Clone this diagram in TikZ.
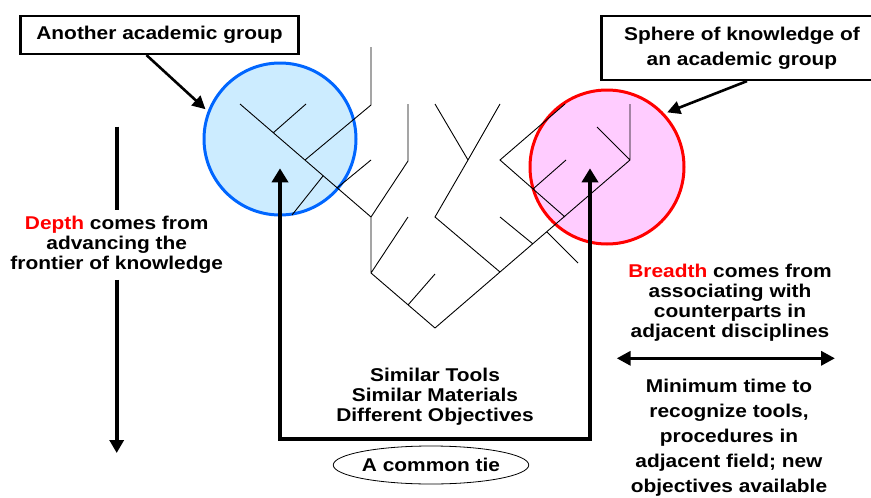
\documentclass[tikz,border=0pt]{standalone}
\usepackage{fontspec}
\setmainfont[FakeStretch=1.13]{Liberation Sans}
\usepackage{xcolor}
\usetikzlibrary{arrows.meta,shapes.geometric}

\definecolor{groupblue}{RGB}{0,102,255}
\definecolor{groupbluefill}{RGB}{204,236,255}
\definecolor{grouppinkfill}{RGB}{255,204,255}

\begin{document}
\begin{tikzpicture}[x=1pt,y=-1pt,
    txt/.style={font=\fontsize{18.5}{20}\selectfont\bfseries,align=center},
    labelbox/.style={txt,draw,line width=2.2pt,inner sep=0pt},
    sphere/.style={circle,line width=3pt,inner sep=0pt},
    branch/.style={line width=0.9pt},
    pointer/.style={line width=2.6pt,-{Triangle[length=13pt,width=13pt]}},
    heavy/.style={line width=3.6pt},
    tie/.style={heavy,{Triangle[length=14pt,width=16pt]}-{Triangle[length=14pt,width=16pt]}}]
  \useasboundingbox (0,0) rectangle (871,498);

  % the two spheres of knowledge
  \node[sphere,draw=groupblue,fill=groupbluefill,minimum size=152pt] (groupA) at (280,139) {};
  \node[sphere,draw=red,fill=grouppinkfill,minimum size=154pt] (groupB) at (607,167) {};

  % branching tree of disciplines
  \draw[branch] (435,328) -- (371,273) -- (371,217) -- (240,104)
    (273,133) -- (306,104)
    (305,160) -- (371,105) -- (371,47)
    (337,188) -- (371,160)
    (323,176) -- (292,215)
    (371,217) -- (408,161) -- (408,104)
    (371,273) -- (408,217)
    (408,305) -- (435,274);
  \draw[branch] (435,328) -- (630,160) -- (630,104)
    (435,104) -- (468,160) -- (500,104)
    (468,160) -- (435,217) -- (500,272)
    (565,104) -- (500,160) -- (565,217)
    (533,189) -- (566,160)
    (500,217) -- (533,244)
    (547,232) -- (578,263)
    (597,127) -- (630,160);

  % labels at the top
  \node[labelbox,minimum width=278pt,minimum height=38pt] (another) at (159.5,35) {Another academic group};
  \node[labelbox,minimum width=281pt,minimum height=64pt,font=\fontsize{18.5}{25}\selectfont\bfseries]
    (sphereof) at (742,48) {Sphere of knowledge of\\an academic group};
  \draw[pointer,shorten >=3pt] ([xshift=-13pt]another.south) -- (groupA.159);
  \draw[pointer,shorten >=3pt] ([xshift=5pt]sphereof.south) -- (groupB.43);

  % depth
  \node[txt,inner sep=6pt] (depth) at (116.7,245) {\textcolor{red}{Depth} comes from\\advancing the\\frontier of knowledge};
  \coordinate (depthtop) at (116.7,126.7);
  \coordinate (depthend) at (116.7,453);
  \draw[heavy] (depthtop) -- (depth);
  \draw[heavy,-{Triangle[length=13pt,width=14pt]}] (depth) -- (depthend);

  % breadth
  \node[txt] (breadth) at (730,303) {\textcolor{red}{Breadth} comes from\\associating with\\counterparts in\\adjacent disciplines};
  \coordinate (breadthL) at (616.7,358.3);
  \coordinate (breadthR) at (835,358.3);
  \draw[heavy,{Triangle[length=14pt,width=14pt]}-{Triangle[length=14pt,width=14pt]}] (breadthL) -- (breadthR);
  \node[txt,font=\fontsize{18.5}{25}\selectfont\bfseries] (mintime) at (729,438)
    {Minimum time to\\recognize tools,\\procedures in\\adjacent field; new\\objectives available};

  % the common tie
  \coordinate (tieA) at (280,168.3);
  \coordinate (tieB) at (590,168.3);
  \coordinate (tieAbot) at (280,438.7);
  \coordinate (tieBbot) at (590,438.7);
  \draw[tie] (tieA) -- (tieAbot) -- (tieBbot) -- (tieB);
  \node[txt] (tools) at (435,397) {Similar Tools\\Similar Materials\\Different Objectives};
  \node[txt,draw,ellipse,line width=0.8pt,minimum width=192pt,minimum height=38pt,inner sep=0pt] (tie) at (431,465) {A common tie};
\end{tikzpicture}
\end{document}
